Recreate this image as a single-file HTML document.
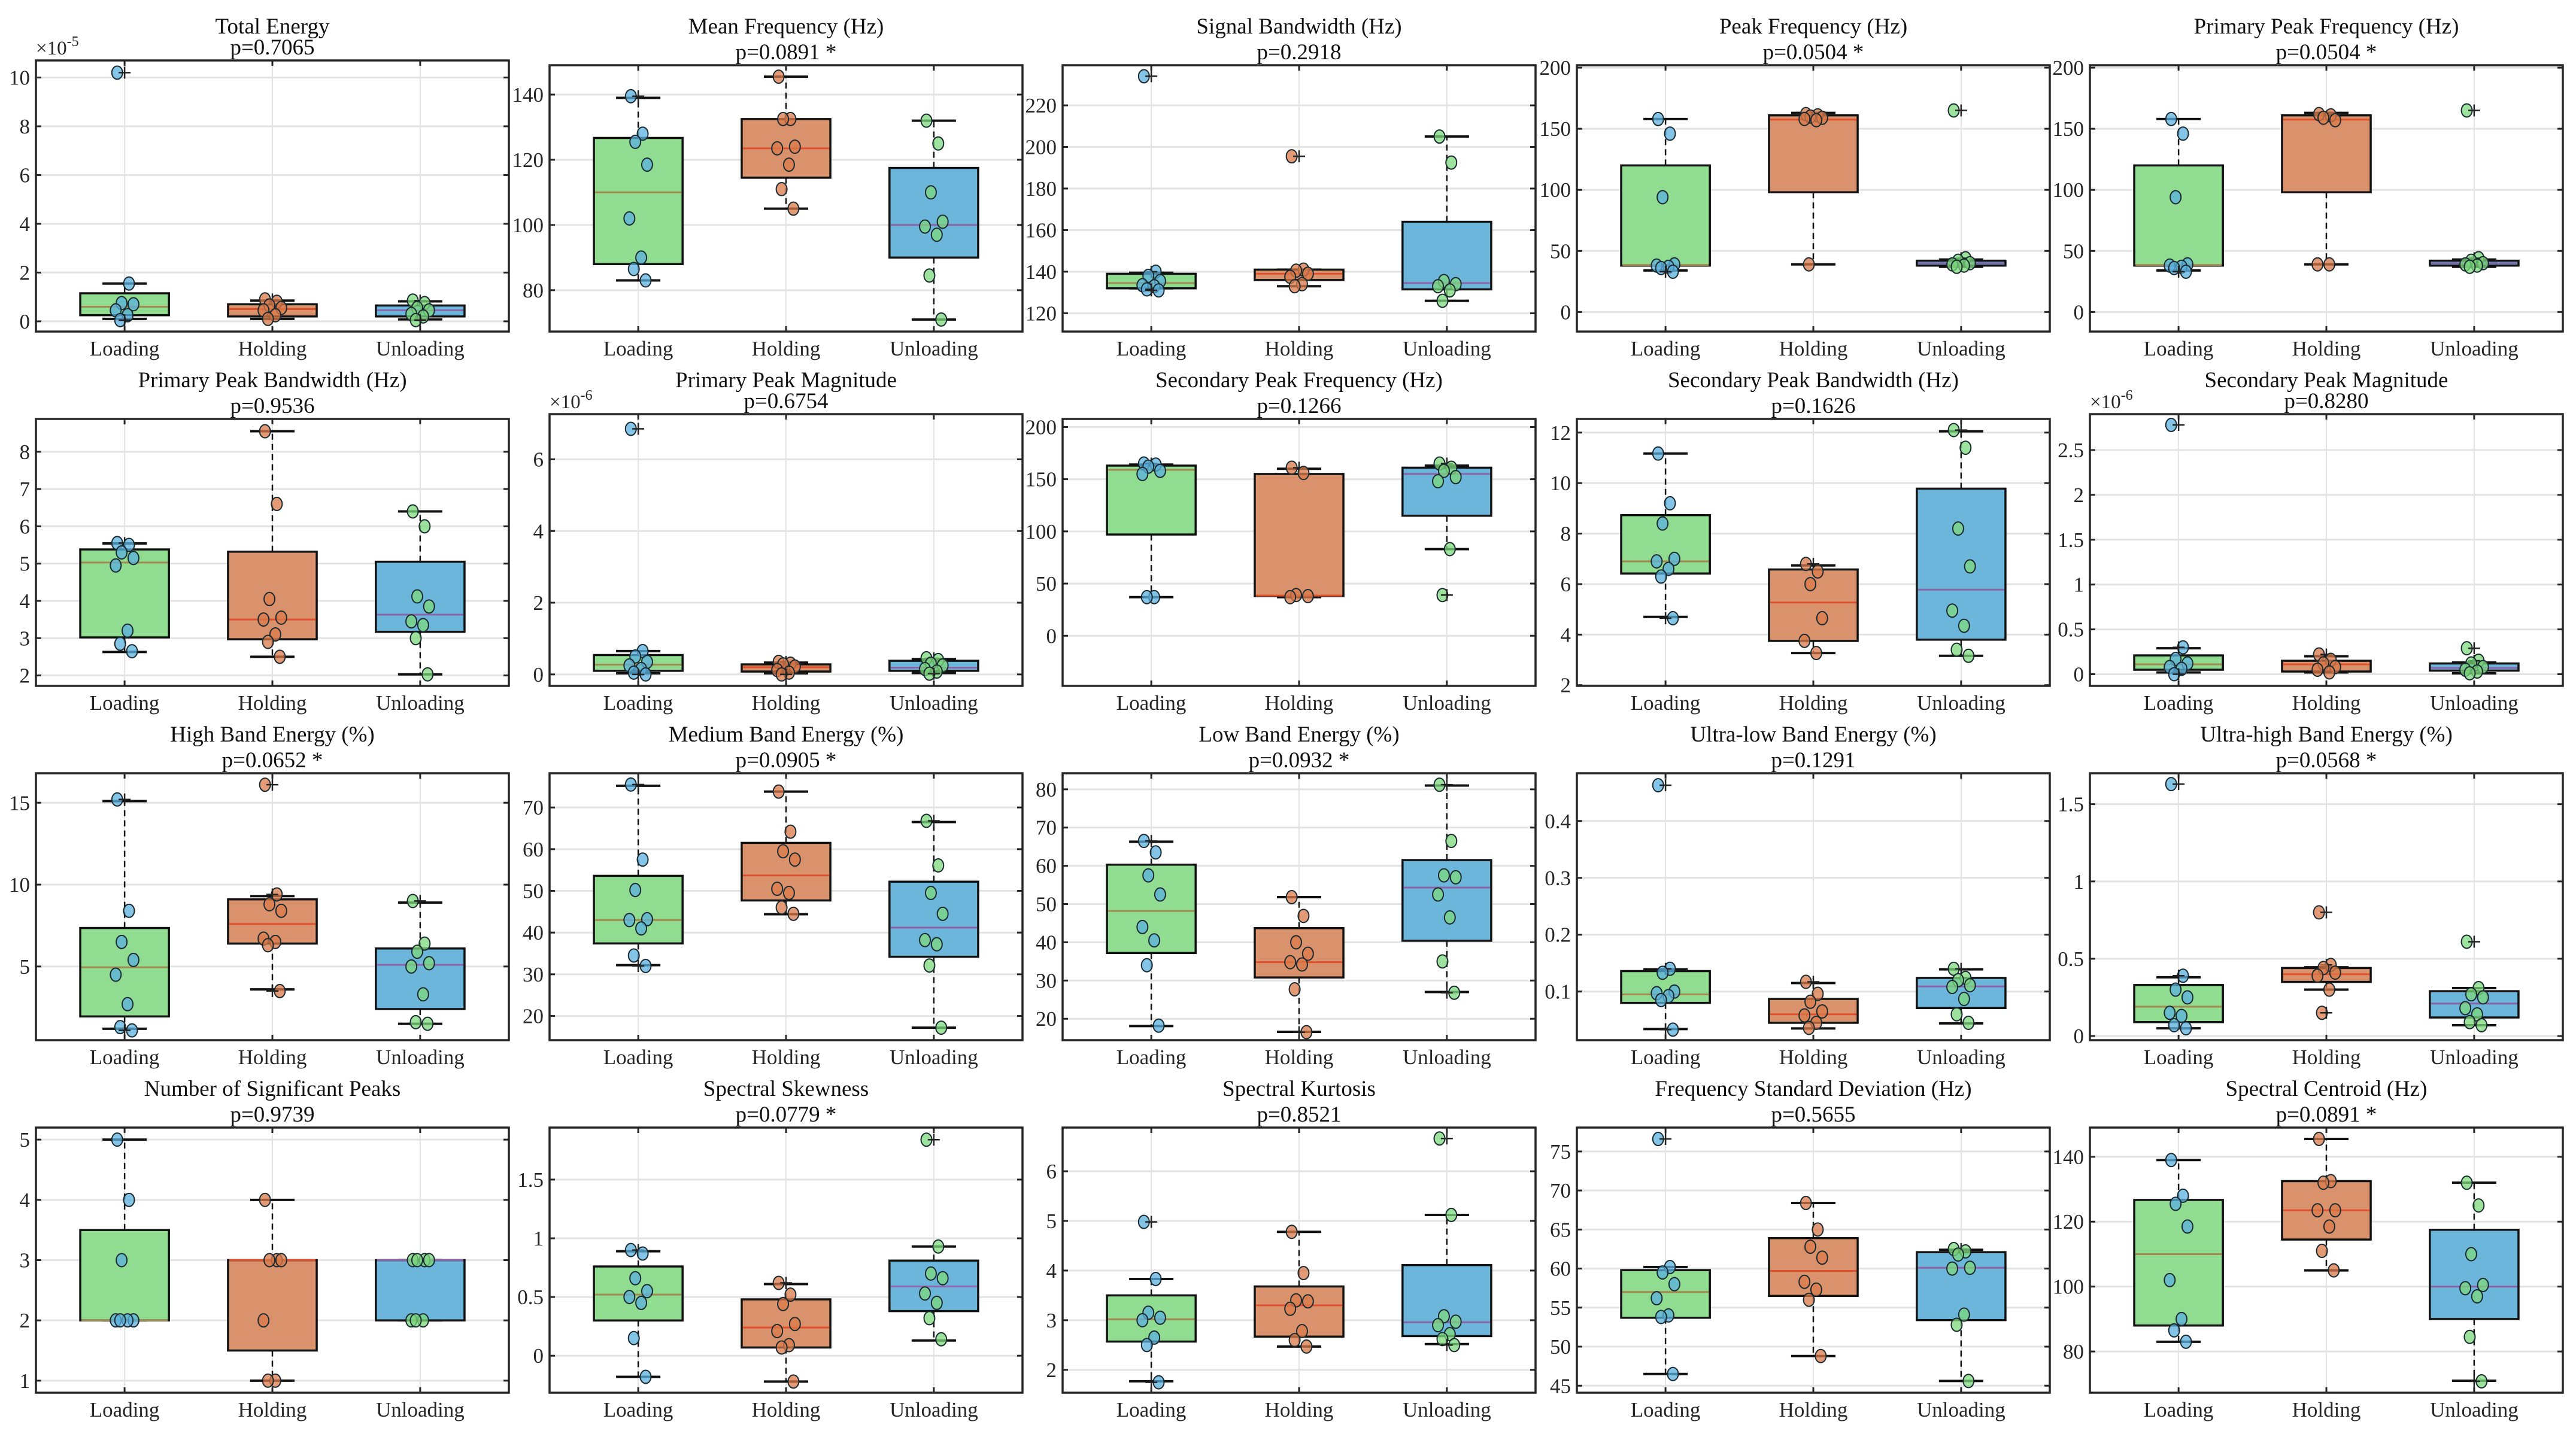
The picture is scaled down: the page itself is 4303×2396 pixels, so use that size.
<!DOCTYPE html>
<html><head><meta charset="utf-8">
<style>
html,body{margin:0;padding:0;background:#fff;}
svg{display:block;font-family:"Liberation Serif","Times New Roman",serif;}
</style></head>
<body>
<svg id="fig" width="4303" height="2396" viewBox="0 0 4303 2396" xmlns="http://www.w3.org/2000/svg"></svg>
<script>
const categories = ["Loading","Holding","Unloading"];
const titles = ["Total Energy","Mean Frequency (Hz)","Signal Bandwidth (Hz)","Peak Frequency (Hz)","Primary Peak Frequency (Hz)",
"Primary Peak Bandwidth (Hz)","Primary Peak Magnitude","Secondary Peak Frequency (Hz)","Secondary Peak Bandwidth (Hz)","Secondary Peak Magnitude",
"High Band Energy (%)","Medium Band Energy (%)","Low Band Energy (%)","Ultra-low Band Energy (%)","Ultra-high Band Energy (%)",
"Number of Significant Peaks","Spectral Skewness","Spectral Kurtosis","Frequency Standard Deviation (Hz)","Spectral Centroid (Hz)"];
const pLabels = ["p=0.7065","p=0.0891 *","p=0.2918","p=0.0504 *","p=0.0504 *",
"p=0.9536","p=0.6754","p=0.1266","p=0.1626","p=0.8280",
"p=0.0652 *","p=0.0905 *","p=0.0932 *","p=0.1291","p=0.0568 *",
"p=0.9739","p=0.0779 *","p=0.8521","p=0.5655","p=0.0891 *"];
const exponents = ["-5","","","","","","-6","","","-6","","","","","","","","","",""];
const yMin = [-0.42,67.3,111.2,-16,-16,1.72,-0.32,-48,1.97,-0.13,0.5,14.2,14.4,0.0144,-0.027,0.8,-0.315,1.54,44.1,67.3];
const yMax = [10.7,149,239.3,202,202,8.88,7.26,207.7,12.54,2.9,16.8,78.2,84.2,0.484,1.7,5.2,1.943,6.88,78.06,149];
const tickVals = [[0,2,4,6,8,10],[80,100,120,140],[120,140,160,180,200,220],[0,50,100,150,200],[0,50,100,150,200],
[2,3,4,5,6,7,8],[0,2,4,6],[0,50,100,150,200],[2,4,6,8,10,12],[0,0.5,1,1.5,2,2.5],
[5,10,15],[20,30,40,50,60,70],[20,30,40,50,60,70,80],[0.1,0.2,0.3,0.4],[0,0.5,1,1.5],
[1,2,3,4,5],[0,0.5,1,1.5],[2,3,4,5,6],[45,50,55,60,65,70,75],[80,100,120,140]];
// per panel: [Loading, Holding, Unloading]
const q1 = [[0.25,0.2,0.2],[88,114.5,90],[132,136,131.5],[38,98,38],[38,98,38],
[3.02,2.97,3.17],[0.1,0.08,0.1],[97,38,115],[6.42,3.75,3.8],[0.05,0.03,0.04],
[1.95,6.4,2.4],[37.4,47.7,34.2],[37.2,30.8,40.4],[0.08,0.045,0.071],[0.09,0.35,0.12],
[2,1.5,2],[0.3,0.07,0.38],[2.57,2.67,2.68],[53.7,56.5,53.4],[88,114.5,90]];
const med = [[0.6,0.5,0.45],[110,123.5,100],[134.5,139,134.5],[38.5,157.5,40],[38.5,157.5,40],
[5.03,3.5,3.63],[0.27,0.2,0.19],[159,38.5,155],[6.9,5.27,5.78],[0.11,0.11,0.07],
[4.95,7.6,5.1],[43,53.7,41.2],[48.2,34.8,54.3],[0.095,0.06,0.109],[0.19,0.4,0.21],
[2,3,3],[0.52,0.24,0.59],[3.02,3.3,2.96],[57,59.7,60.1],[110,123.5,100]];
const q3 = [[1.15,0.7,0.65],[126.7,132.5,117.5],[139,141,164],[120,161,42],[120,161,42],
[5.38,5.32,5.05],[0.54,0.28,0.38],[163,155,161],[8.73,6.58,9.78],[0.21,0.15,0.12],
[7.35,9.1,6.1],[53.6,61.5,52.2],[60.3,43.7,61.5],[0.136,0.087,0.124],[0.33,0.44,0.29],
[3.5,3,3],[0.76,0.48,0.81],[3.5,3.68,4.11],[59.8,63.9,62.1],[126.7,132.5,117.5]];
const wLo = [[0.1,0.1,0.08],[83,105,71],[132,133,126],[34,39,37],[34,39,37],
[2.63,2.5,2.03],[0.03,0.03,0.04],[37,37,83],[4.7,3.27,3.16],[0.02,0.02,0.01],
[1.2,3.6,1.5],[32.2,44.4,17.2],[18.1,16.6,27],[0.034,0.035,0.044],[0.05,0.3,0.07],
[2,1,2],[-0.18,-0.22,0.13],[1.77,2.47,2.52],[46.5,48.8,45.6],[83,105,71]];
const wHi = [[1.55,0.85,0.82],[139,145.5,132],[139.5,141,205],[158,163,43],[158,163,43],
[5.54,8.55,6.4],[0.65,0.33,0.43],[164,160,163],[11.17,6.74,12.05],[0.29,0.2,0.13],
[15.1,9.3,8.9],[75.2,73.8,66.5],[66.3,51.8,81],[0.139,0.115,0.139],[0.38,0.445,0.31],
[5,4,3],[0.89,0.61,0.93],[3.83,4.78,5.12],[60.2,68.4,62.4],[139,145.5,132]];
const points = [
[[10.2,1.55,0.75,0.7,0.45,0.25,0.05],[0.9,0.8,0.65,0.55,0.45,0.25,0.1],[0.85,0.75,0.55,0.45,0.3,0.2,0.05]],
[[139.5,128,125.5,118.5,102,90,86.5,83],[145.5,132.5,132.5,124,123.5,118.5,111,105],[132,125,110,101,99.5,97,84.5,71]],
[[234,140,138,135.5,133.5,133,131.5,131],[195.5,141,140.5,139,137.5,134,133],[205,192.5,135.5,134,133,131,126]],
[[158,146,94,39,38,37,36,33],[162,161,160,159,158,157,39],[165,44,42,40,39,38,37]],
[[158,146,94,39,38,37,36,33],[162,161,159,157,39,39],[165,44,42,40,39,38,37]],
[[5.55,5.5,5.3,5.15,4.95,3.2,2.85,2.65],[8.55,6.6,4.05,3.55,3.5,3.1,2.9,2.5],[6.4,6.0,4.12,3.85,3.45,3.35,3.0,2.03]],
[[6.85,0.65,0.5,0.35,0.25,0.15,0.05,0.0],[0.35,0.3,0.28,0.22,0.12,0.05,0.0],[0.45,0.4,0.3,0.25,0.15,0.08,0.02]],
[[165,164,162,158,155,37,37],[161,156,39,38,37],[165,161,158,152,148,83,39]],
[[11.17,9.2,8.4,7.0,6.9,6.6,6.3,4.65],[6.8,6.5,6.0,4.65,3.75,3.27],[12.1,11.4,8.2,6.7,4.95,4.35,3.4,3.16]],
[[2.78,0.3,0.17,0.12,0.08,0.06,0.0],[0.22,0.16,0.12,0.08,0.05,0.02],[0.29,0.15,0.12,0.08,0.05,0.03,0.01]],
[[15.2,8.4,6.5,5.4,4.5,2.7,1.3,1.1],[16.1,9.4,8.8,8.4,6.7,6.5,6.3,3.5],[9.0,6.4,5.9,5.2,5.0,3.3,1.6,1.5]],
[[75.5,57.5,50.2,43.2,43,41,34.5,32],[73.8,64.2,59.5,57.5,50.5,49.5,46,44.5],[66.8,56.1,49.5,44.5,38.2,37.2,32.1,17.2]],
[[66.5,63.5,57.5,52.5,44.0,40.5,34.0,18.2],[51.8,46.9,40,37,34.8,34.2,27.7,16.5],[81.2,66.5,57.5,57.0,52.5,46.5,35.0,26.8]],
[[0.463,0.14,0.133,0.1,0.097,0.092,0.085,0.033],[0.117,0.096,0.082,0.065,0.058,0.045,0.036],[0.14,0.124,0.12,0.111,0.108,0.087,0.06,0.045]],
[[1.63,0.39,0.3,0.25,0.15,0.13,0.07,0.05],[0.8,0.46,0.44,0.41,0.39,0.3,0.15],[0.61,0.31,0.27,0.25,0.18,0.14,0.09,0.07]],
[[5,4,3,2,2,2,2],[4,3,3,3,2,1,1],[3,3,3,3,2,2,2]],
[[0.9,0.87,0.66,0.55,0.5,0.45,0.15,-0.18],[0.62,0.52,0.44,0.27,0.21,0.09,0.07,-0.22],[1.84,0.93,0.7,0.66,0.53,0.45,0.32,0.14]],
[[4.98,3.83,3.15,3.05,3.0,2.65,2.5,1.75],[4.78,3.95,3.4,3.38,3.23,2.78,2.6,2.47],[6.66,5.12,3.08,2.97,2.9,2.72,2.62,2.5]],
[[76.6,60.2,59.5,58,56.2,54,53.8,46.5],[68.4,65,62.8,61.4,58.3,57.3,56,48.8],[62.5,62.2,61.8,60.1,60.0,54.1,52.8,45.6]],
[[139,128,125.5,118.5,102,90,86.5,83],[145.5,132.5,132,123.5,123.5,118.5,111,105],[132,125,110,100.5,99.5,97,84.5,70.8]]
];

const NS = "http://www.w3.org/2000/svg";
const svg = document.getElementById("fig");
function mk(tag, attrs, parent){
  const e = document.createElementNS(NS, tag);
  for (const k in attrs) e.setAttribute(k, attrs[k]);
  (parent||svg).appendChild(e);
  return e;
}
const colLeft = [60, 918, 1775, 2634, 3491];
const W = 790;
const rowTop = [109, 700, 1292, 1884];
const rowBot = [554, 1146, 1738, 2327];
const boxFill = ["#90dc90","#d9926c","#6cb6dc"];
const medCol = ["#a08a50","#e0502c","#8a64a8"];
const ptFill = ["#5bb0de","#d9794a","#7cd87c"];
const jit = [-0.05,0.03,-0.02,0.06,-0.06,0.02,-0.03,0.05];
const slug = s => s.toLowerCase().replace(/[^a-z0-9]+/g,'-').replace(/^-|-$/g,'');
function fmt(v){ return String(v); }

for (let p = 0; p < 20; p++) {
  const r = Math.floor(p/5), c = p%5;
  const L = colLeft[c];
  const exp = exponents[p];
  const T = exp ? rowTop[r]-8 : rowTop[r];
  const B = rowBot[r];
  const H = B - T;
  const ymin = yMin[p], ymax = yMax[p];
  const xs = u => L + (u-0.4)/3.2*W;
  const ys = v => B - (v-ymin)/(ymax-ymin)*H;
  const g = mk("g", {});
  
  

  // grid
  for (const t of tickVals[p]) {
    const gl = mk("line", {x1:L, x2:L+W, y1:ys(t), y2:ys(t), stroke:"#e3e3e3", "stroke-width":3}, g);
    
    
  }
  for (let i = 0; i < 3; i++) {
    const gl = mk("line", {x1:xs(i+1), x2:xs(i+1), y1:T, y2:B, stroke:"#e3e3e3", "stroke-width":2}, g);
    
    
  }
  // boxes
  for (let i = 0; i < 3; i++) {
    const cx = xs(i+1), hw = 0.3/3.2*W, cw = 0.15/3.2*W;
    const bg = mk("g", {}, g);
    
    
    mk("line", {x1:cx, x2:cx, y1:ys(q3[p][i]), y2:ys(wHi[p][i]), stroke:"#111", "stroke-width":2.5, "stroke-dasharray":"10,7"}, bg);
    mk("line", {x1:cx, x2:cx, y1:ys(q1[p][i]), y2:ys(wLo[p][i]), stroke:"#111", "stroke-width":2.5, "stroke-dasharray":"10,7"}, bg);
    mk("line", {x1:cx-cw, x2:cx+cw, y1:ys(wHi[p][i]), y2:ys(wHi[p][i]), stroke:"#111", "stroke-width":4}, bg);
    mk("line", {x1:cx-cw, x2:cx+cw, y1:ys(wLo[p][i]), y2:ys(wLo[p][i]), stroke:"#111", "stroke-width":4}, bg);
    const yt = ys(q3[p][i]), yb = ys(q1[p][i]);
    mk("rect", {x:cx-hw, y:yt, width:2*hw, height:Math.max(1,yb-yt), fill:boxFill[i], stroke:"#111", "stroke-width":3.5}, bg);
    mk("line", {x1:cx-hw+2, x2:cx+hw-2, y1:ys(med[p][i]), y2:ys(med[p][i]), stroke:medCol[i], "stroke-width":3}, bg);
  }
  // points
  for (let i = 0; i < 3; i++) {
    const cx = i+1;
    points[p][i].forEach((v, k) => {
      const px = xs(cx + jit[k%jit.length]), py = ys(v);
      const pt = mk("ellipse", {cx:px, cy:py, rx:9, ry:11, fill:ptFill[i], "fill-opacity":0.75, stroke:"#1a2a30", "stroke-width":2}, g);
      
      
      if (v > wHi[p][i] + 1e-9 || v < wLo[p][i] - 1e-9) {
        const ox = xs(cx);
        mk("path", {d:`M${ox-10},${py}H${ox+10}M${ox},${py-10}V${py+10}`, stroke:"#222", "stroke-width":2.5, fill:"none"}, g);
      }
    });
  }
  // frame
  const fr = mk("rect", {x:L, y:T, width:W, height:H, fill:"none", stroke:"#262626", "stroke-width":3.5}, g);
  
  
  // y ticks
  for (const t of tickVals[p]) {
    const y = ys(t);
    mk("line", {x1:L, x2:L+9, y1:y, y2:y, stroke:"#262626", "stroke-width":3}, g);
    mk("line", {x1:L+W-9, x2:L+W, y1:y, y2:y, stroke:"#262626", "stroke-width":3}, g);
    const tl = mk("text", {x:L-10, y:y+12, "text-anchor":"end", "font-size":35, fill:"#262626"}, g);
    tl.textContent = fmt(t);
    
    
  }
  // x ticks
  for (let i = 0; i < 3; i++) {
    const x = xs(i+1);
    mk("line", {x1:x, x2:x, y1:B, y2:B-9, stroke:"#262626", "stroke-width":3}, g);
    mk("line", {x1:x, x2:x, y1:T, y2:T+9, stroke:"#262626", "stroke-width":3}, g);
    const xl = mk("text", {x:x, y:B+40, "text-anchor":"middle", "font-size":35, fill:"#262626"}, g);
    xl.textContent = categories[i];
    
    
  }
  // exponent
  if (exp) {
    const et = mk("text", {x:L, y:T-10, "font-size":33, fill:"#262626"}, g);
    et.textContent = "\u00d710";
    const sup = mk("tspan", {dy:-14, "font-size":24}, et);
    sup.textContent = exp;
    
    
  }
  // titles
  const tt = mk("text", {x:L+W/2, y:rowTop[r]-53, "text-anchor":"middle", "font-size":37, fill:"#111"}, g);
  tt.textContent = titles[p];
  
  
  const pt2 = mk("text", {x:L+W/2, y:T-10, "text-anchor":"middle", "font-size":37, fill:"#111"}, g);
  pt2.textContent = pLabels[p];
  
  
}
</script>
</body></html>
